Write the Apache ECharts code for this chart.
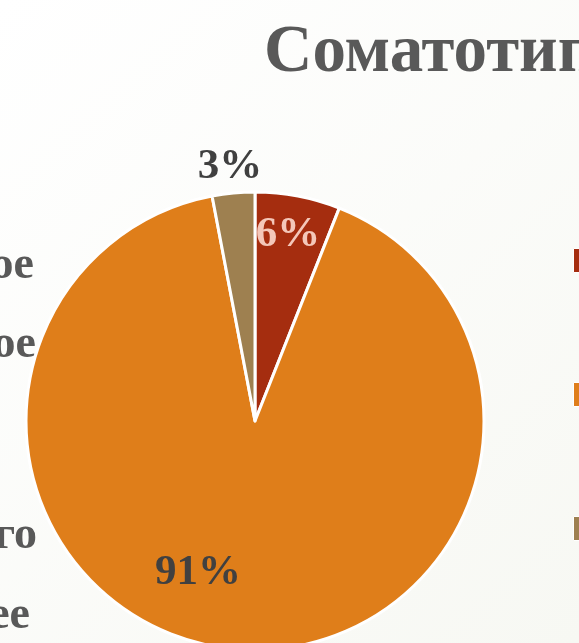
<!DOCTYPE html>
<html>
<head>
<meta charset="utf-8">
<script src="https://cdn.jsdelivr.net/npm/echarts@6/dist/echarts.min.js"></script>
<style>
html,body{margin:0;padding:0;background:#fff;}
#chart{width:579px;height:643px;}
</style>
</head>
<body>
<div id="chart"></div>
<script>
const titleText = 'Соматотип';
const categories = ['Гиперстенический', 'Нормостенический', 'Астенический'];
const values = [6, 91, 3];
const colors = ['#A52D0F', '#DF7E1A', '#9E8050'];
const labelColors = ['#F4C7B9', '#404040', '#404040'];
const labelOffsets = [[11, -71], [-46, 35], [-14, -137]];
const leftFragments = ['ое', 'ое', 'го', 'ее'];
const leftFragmentY = [266, 345, 536, 616];
const leftFragmentRight = [34, 36, 37, 30];

const chart = echarts.init(document.getElementById('chart'));
const serif = '"Liberation Serif", "Times New Roman", serif';

const graphics = [];
leftFragments.forEach((t, i) => {
  graphics.push({
    type: 'text',
    x: leftFragmentRight[i],
    y: leftFragmentY[i],
    style: {
      text: t,
      textAlign: 'right',
      textVerticalAlign: 'middle',
      font: 'bold 46px ' + serif,
      fill: '#595959'
    }
  });
});
graphics.push({
  type: 'text',
  x: 264,
  y: 54,
  style: {
    text: titleText,
    textAlign: 'left',
    textVerticalAlign: 'middle',
    font: 'bold 67px ' + serif,
    fill: '#595959'
  }
});

chart.setOption({
  backgroundColor: {
    type: 'linear', x: 0, y: 0, x2: 1, y2: 1,
    colorStops: [{offset: 0, color: '#FFFFFF'}, {offset: 1, color: '#F7F8F3'}]
  },
  animation: false,
  color: colors,
  legend: {
    orient: 'vertical',
    left: 573,
    top: 248,
    padding: 0,
    itemWidth: 22,
    itemHeight: 24,
    itemGap: 109,
    icon: 'rect',
    data: categories,
    itemStyle: {borderColor: '#FFFFFF', borderWidth: 1},
    textStyle: {fontSize: 14, color: '#595959', fontFamily: serif}
  },
  graphic: graphics,
  series: [{
    type: 'pie',
    center: [255, 421],
    radius: [0, 229],
    startAngle: 90,
    clockwise: true,
    avoidLabelOverlap: false,
    itemStyle: {borderColor: '#FFFFFF', borderWidth: 3},
    labelLine: {show: false},
    emphasis: {disabled: true},
    data: categories.map((c, i) => ({
      name: c,
      value: values[i],
      label: {
        show: true,
        position: 'inside',
        formatter: '{d}%',
        offset: labelOffsets[i],
        color: labelColors[i],
        fontFamily: serif,
        fontWeight: 'bold',
        fontSize: 43,
        textBorderWidth: 0
      }
    }))
  }]
});
</script>
</body>
</html>
